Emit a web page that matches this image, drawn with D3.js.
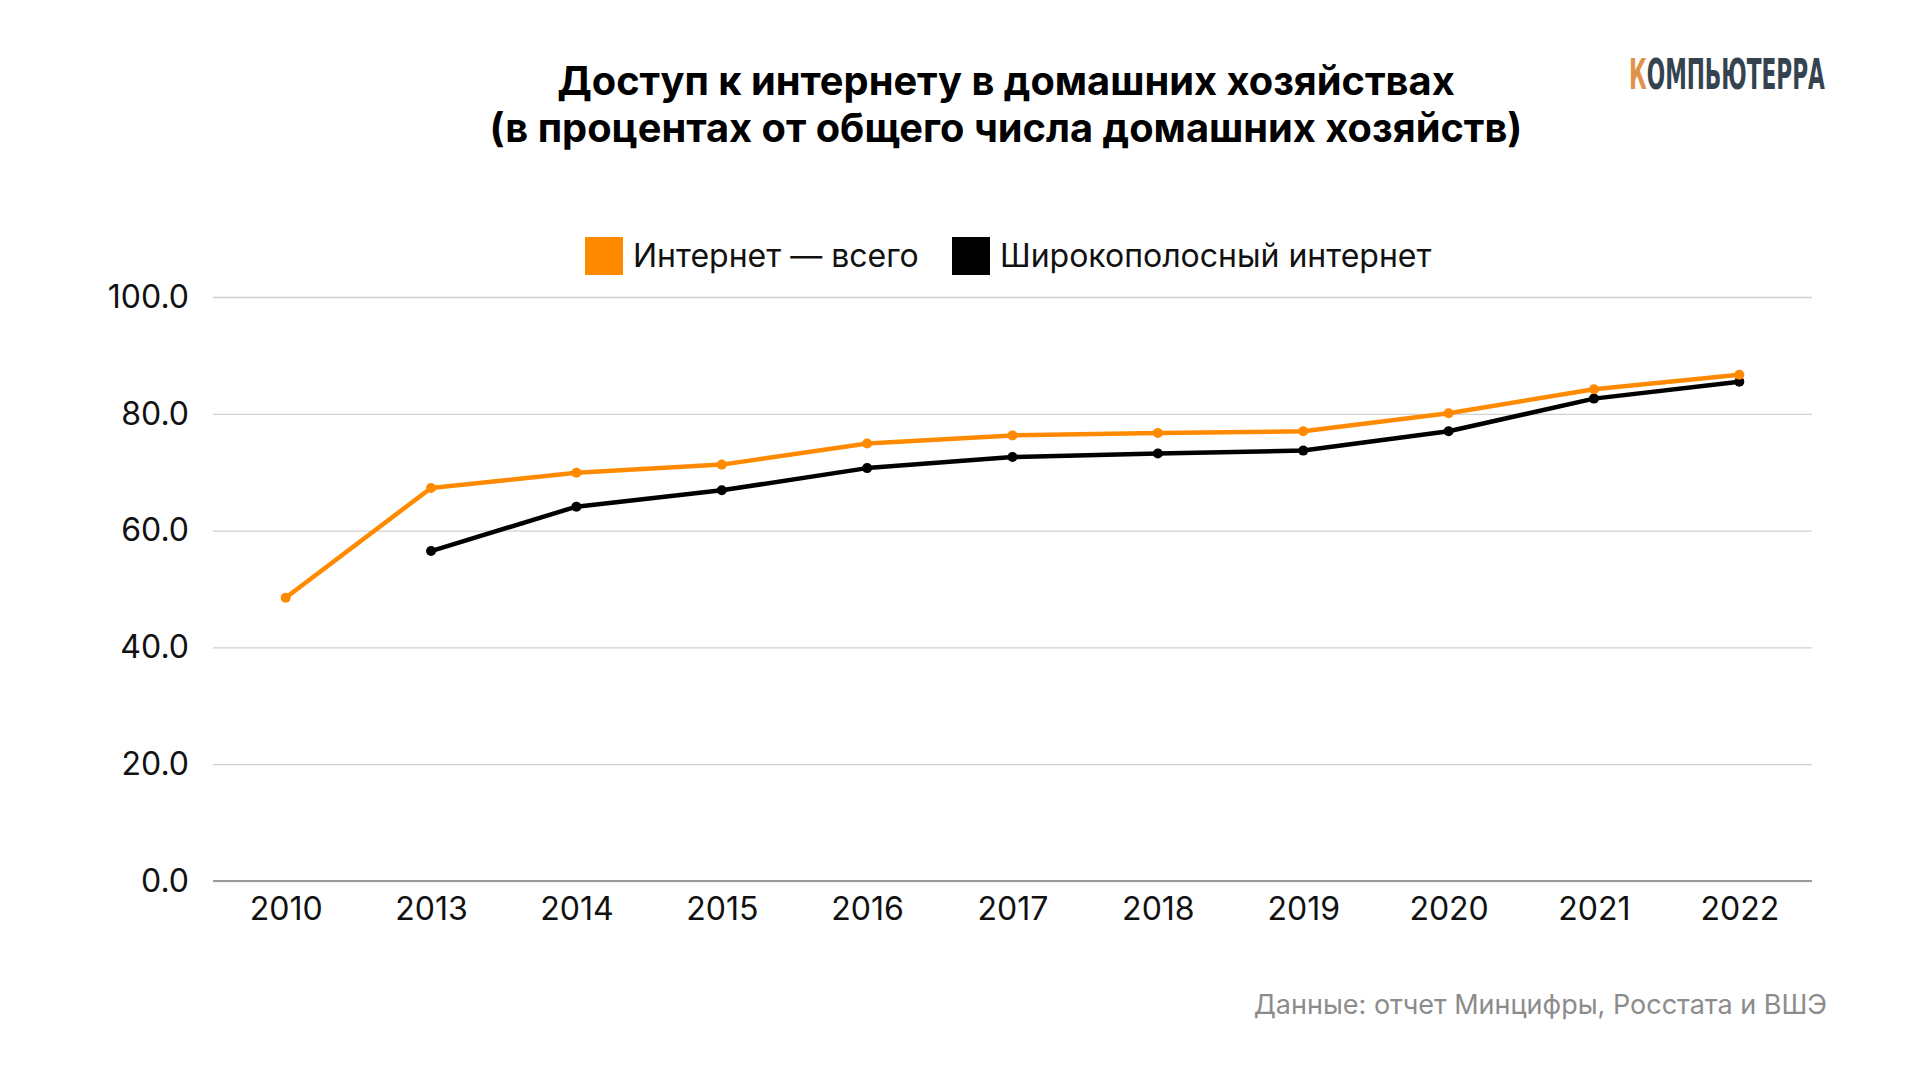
<!DOCTYPE html>
<html>
<head>
<meta charset="utf-8">
<script src="https://cdn.jsdelivr.net/npm/d3@7"></script>
<style>
  body { margin: 0; background: #fff; }
  svg { display: block; font-family: Inter, "Noto Sans", sans-serif; }
</style>
</head>
<body>
<svg id="chart" width="1920" height="1080"></svg>
<script>
var width = 1920, height = 1080

var years = ['2010', '2013', '2014', '2015', '2016', '2017', '2018', '2019', '2020', '2021', '2022']
var internetTotal = [48.5, 67.3, 69.9, 71.3, 74.9, 76.3, 76.7, 77.0, 80.1, 84.2, 86.7]
var broadband = [null, 56.5, 64.1, 66.9, 70.7, 72.6, 73.2, 73.7, 77.0, 82.6, 85.5]
var yTicks = [0, 20, 40, 60, 80, 100]
var seriesNames = ['Интернет — всего', 'Широкополосный интернет']
var seriesColors = ['#ff8a00', '#000000']

var svg = d3.select('#chart')

var margin = {left: 213, right: 108, top: 297, bottom: 199}

var x = d3.scalePoint()
  .domain(years)
  .range([margin.left, width - margin.right])
  .padding(0.5)

var y = d3.scaleLinear()
  .domain([0, 100])
  .range([height - margin.bottom, margin.top])

// gridlines
svg.append('g')
  .attr('transform', 'translate(' + margin.left + ',0)')
  .call(d3.axisLeft(y).tickValues(yTicks).tickSize(-(width - margin.left - margin.right)).tickFormat(''))
  .call(g => g.select('.domain').remove())
  .call(g => g.selectAll('line').attr('stroke', '#d0d0d0').attr('stroke-width', 1.3))

// y labels
svg.append('g')
  .attr('transform', 'translate(' + (margin.left - 21) + ',0)')
  .call(d3.axisLeft(y).tickValues(yTicks).tickSize(0).tickFormat(d3.format('.1f')))
  .call(g => g.select('.domain').remove())
  .call(g => g.selectAll('text')
    .attr('font-family', 'Inter').attr('font-size', 32).attr('fill', '#111'))

// x axis
var xAxis = svg.append('g')
  .attr('transform', 'translate(0,' + y(0) + ')')
  .call(d3.axisBottom(x).tickSize(0).tickPadding(16))
xAxis.select('.domain').attr('stroke', '#9a9a9a').attr('stroke-width', 2)
  .attr('d', 'M' + margin.left + ',0H' + (width - margin.right))
xAxis.selectAll('text')
  .attr('font-family', 'Inter').attr('font-size', 32).attr('fill', '#111')

var series = [internetTotal, broadband]

var line = d3.line()
  .defined(d => d.v != null)
  .x(d => x(d.year))
  .y(d => y(d.v))

// black first, orange on top
;[1, 0].forEach(function(i) {
  var pts = years.map((yr, j) => ({year: yr, v: series[i][j]}))
  svg.append('path')
    .datum(pts)
    .attr('fill', 'none')
    .attr('stroke', seriesColors[i])
    .attr('stroke-width', 4.5)
    .attr('stroke-linejoin', 'round')
    .attr('d', line)

  svg.append('g').selectAll('circle')
    .data(pts.filter(d => d.v != null))
    .enter().append('circle')
    .attr('cx', d => x(d.year))
    .attr('cy', d => y(d.v))
    .attr('r', 5)
    .attr('fill', seriesColors[i])
})

// legend
var legendX = [585, 952]
seriesNames.forEach(function(name, i) {
  var g = svg.append('g').attr('transform', 'translate(' + legendX[i] + ',237)')
  g.append('rect').attr('width', 38).attr('height', 38).attr('fill', seriesColors[i])
  g.append('text')
    .attr('x', 48).attr('y', 19).attr('dy', '0.35em')
    .attr('font-family', 'Inter').attr('font-size', 32).attr('fill', '#111')
    .text(name)
})

// title
var title = svg.append('text')
  .attr('text-anchor', 'middle')
  .attr('font-family', 'Inter').attr('font-weight', 700).attr('font-size', 39.8).attr('fill', '#000')
title.append('tspan').attr('x', 1006).attr('y', 95).text('Доступ к интернету в домашних хозяйствах')
title.append('tspan').attr('x', 1006).attr('y', 142).text('(в процентах от общего числа домашних хозяйств)')

// logo, squeezed to the width of the original wordmark
var logoG = svg.append('g')
var logo = logoG.append('text')
  .attr('x', 0).attr('y', 0)
  .attr('font-family', '"Liberation Sans Narrow", "DejaVu Sans Condensed", sans-serif')
  .attr('font-weight', 700).attr('font-size', 42)
logo.append('tspan').attr('fill', '#e2914a').text('К')
logo.append('tspan').attr('fill', '#34434f').text('ОМПЬЮТЕРРА')
var lw = logo.node().getComputedTextLength()
logoG.attr('transform', 'translate(1629,89) scale(' + (196 / lw) + ',1)')

// source
svg.append('text')
  .attr('x', 1827).attr('y', 1005).attr('dy', '0.35em')
  .attr('text-anchor', 'end')
  .attr('font-family', 'Inter').attr('font-size', 27).attr('fill', '#8c8c8c')
  .text('Данные: отчет Минцифры, Росстата и ВШЭ')
</script>
</body>
</html>
